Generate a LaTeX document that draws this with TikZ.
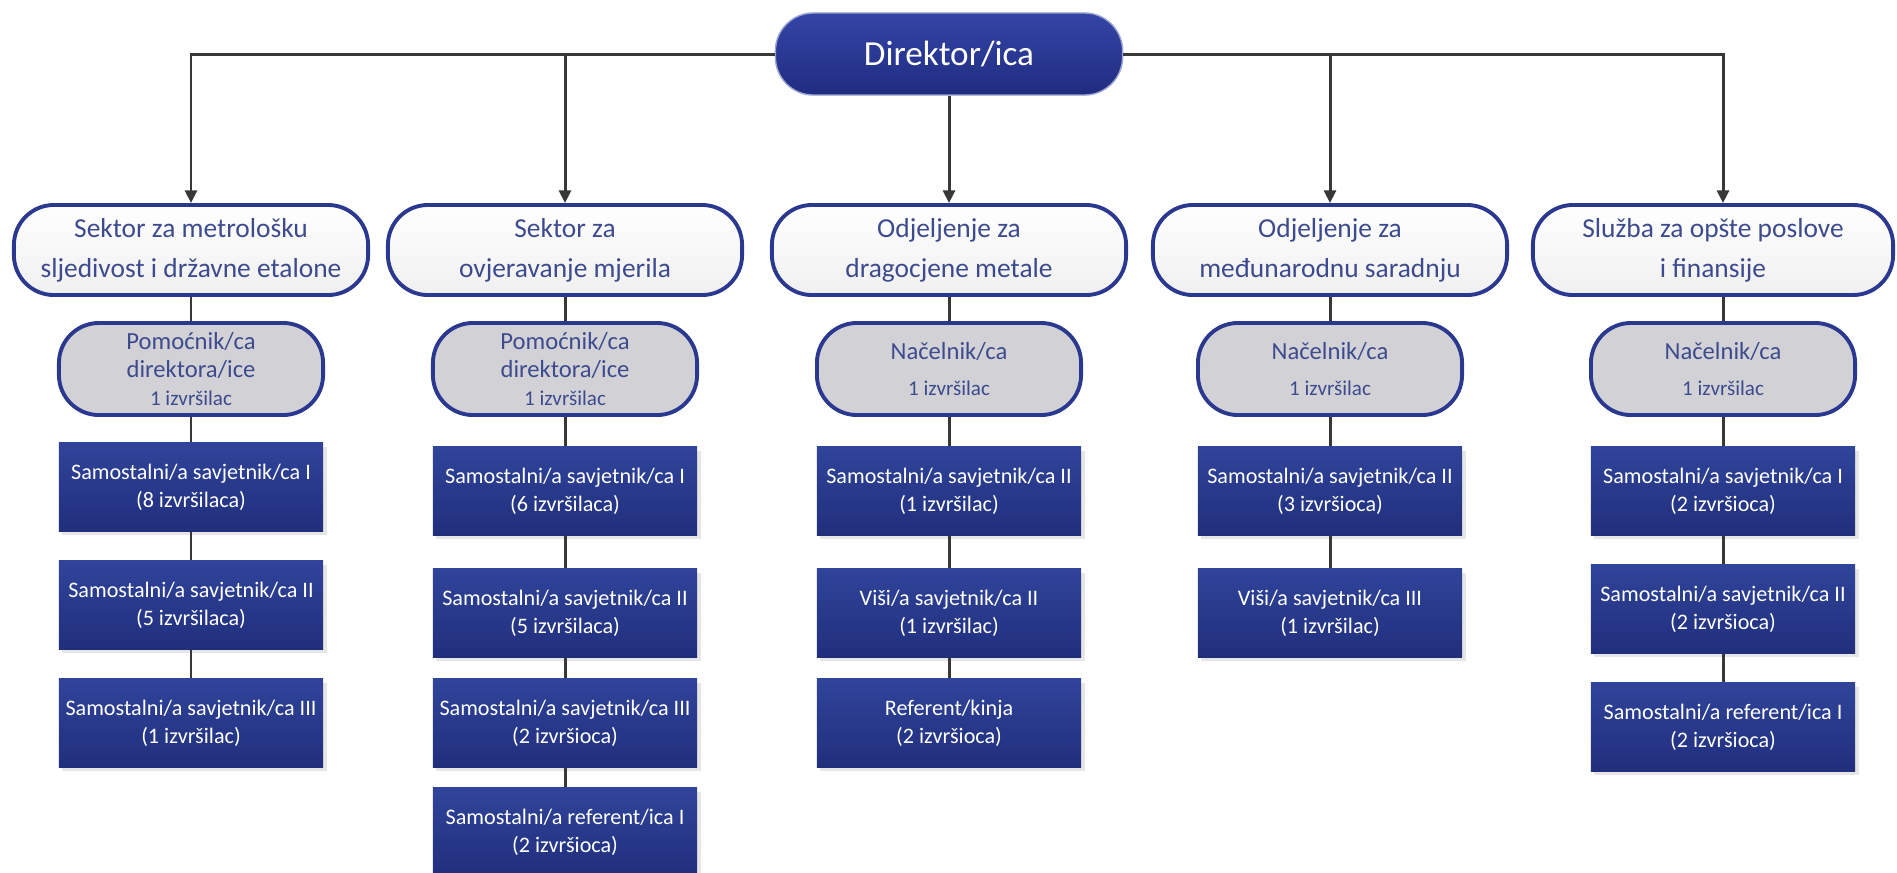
\documentclass[tikz,border=0pt]{standalone}
\usepackage{fontspec}
\setmainfont{Carlito}
\usepackage{tikz}
\usetikzlibrary{arrows.meta, positioning, shadows}
\definecolor{dirblue}{HTML}{3545A6}
\definecolor{dirdark}{HTML}{1F2C80}
\definecolor{unitline}{HTML}{2B3890}
\definecolor{unittext}{HTML}{3D4B8E}
\definecolor{headgray}{HTML}{D2D2D6}
\definecolor{postblue}{HTML}{30449A}
\definecolor{postdark}{HTML}{212E7C}
\definecolor{wire}{HTML}{383838}
\newcommand{\crew}[1]{{\fontsize{6}{8}\selectfont #1}}

\begin{document}
\begin{tikzpicture}[x=0.01cm, y=-0.01cm,
  director/.style={rectangle, rounded corners=0.38cm, top color=dirblue, bottom color=dirdark,
    draw=dirblue!50!white, line width=0.4pt, minimum width=3.47cm, minimum height=0.82cm,
    text=white, font=\fontsize{10}{12}\selectfont},
  unit/.style={rectangle, rounded corners=0.4cm, top color=white, bottom color=gray!12,
    draw=unitline, line width=1.1pt, minimum width=3.54cm, minimum height=0.9cm, inner sep=0pt,
    text=unittext, align=center, font=\fontsize{7.8}{11.4}\selectfont},
  head/.style={rectangle, rounded corners=0.4cm, fill=headgray, draw=unitline, line width=1.1pt,
    minimum width=2.64cm, minimum height=0.92cm, inner sep=0pt,
    text=unittext, align=center, font=\fontsize{7}{8}\selectfont},
  post/.style={rectangle, top color=postblue, bottom color=postdark,
    minimum width=2.64cm, minimum height=0.88cm, inner sep=0pt,
    drop shadow={opacity=0.2, shadow xshift=1pt, shadow yshift=-1pt},
    text=white, align=center, font=\fontsize{6.3}{8}\selectfont},
  arrow/.style={-{Triangle[length=3.6pt, width=3.4pt]}, line width=0.85pt, wire},
  link/.style={line width=0.85pt, wire}
]
  \useasboundingbox (0,0) rectangle (1897,872);

  % top
  \node[director] (dir) at (949,54) {Direktor/ica};

  % sectors and departments
  \node[unit] (s1) at (191,250) {Sektor za metrološku\\sljedivost i državne etalone};
  \node[unit] (s2) at (565,250) {Sektor za\\ovjeravanje mjerila};
  \node[unit] (s3) at (949,250) {Odjeljenje za\\dragocjene metale};
  \node[unit] (s4) at (1330,250) {Odjeljenje za\\međunarodnu saradnju};
  \node[unit, minimum width=3.6cm] (s5) at (1713,250) {Služba za opšte poslove\\i finansije};

  % heads
  \node[head] (h1) at (191,369) {Pomoćnik/ca\\direktora/ice\\\crew{1 izvršilac}};
  \node[head] (h2) at (565,369) {Pomoćnik/ca\\direktora/ice\\\crew{1 izvršilac}};
  \node[head] (h3) at (949,369) {Načelnik/ca\\[2pt]\crew{1 izvršilac}};
  \node[head] (h4) at (1330,369) {Načelnik/ca\\[2pt]\crew{1 izvršilac}};
  \node[head] (h5) at (1723,369) {Načelnik/ca\\[2pt]\crew{1 izvršilac}};

  % posts
  \node[post] (p11) at (191,487) {Samostalni/a savjetnik/ca I\\(8 izvršilaca)};
  \node[post] (p12) at (191,605) {Samostalni/a savjetnik/ca II\\(5 izvršilaca)};
  \node[post] (p13) at (191,723) {Samostalni/a savjetnik/ca III\\(1 izvršilac)};

  \node[post] (p21) at (565,491) {Samostalni/a savjetnik/ca I\\(6 izvršilaca)};
  \node[post] (p22) at (565,613) {Samostalni/a savjetnik/ca II\\(5 izvršilaca)};
  \node[post] (p23) at (565,723) {Samostalni/a savjetnik/ca III\\(2 izvršioca)};
  \node[post] (p24) at (565,832) {Samostalni/a referent/ica I\\(2 izvršioca)};

  \node[post] (p31) at (949,491) {Samostalni/a savjetnik/ca II\\(1 izvršilac)};
  \node[post] (p32) at (949,613) {Viši/a savjetnik/ca II\\(1 izvršilac)};
  \node[post] (p33) at (949,723) {Referent/kinja\\(2 izvršioca)};

  \node[post] (p41) at (1330,491) {Samostalni/a savjetnik/ca II\\(3 izvršioca)};
  \node[post] (p42) at (1330,613) {Viši/a savjetnik/ca III\\(1 izvršilac)};

  \node[post] (p51) at (1723,491) {Samostalni/a savjetnik/ca I\\(2 izvršioca)};
  \node[post] (p52) at (1723,609) {Samostalni/a savjetnik/ca II\\(2 izvršioca)};
  \node[post] (p53) at (1723,727) {Samostalni/a referent/ica I\\(2 izvršioca)};

  % arrows from the director
  \draw[arrow] (dir.west) -| (s1.north);
  \draw[arrow] (dir.west) -| (s2.north);
  \draw[arrow] (dir.south) -- (s3.north);
  \draw[arrow] (dir.east) -| (s4.north);
  \draw[arrow] (dir.east) -| (s5.north -| h5);

  % columns
  \draw[link] (s1) -- (h1) (h1) -- (p11) (p11) -- (p12) (p12) -- (p13);
  \draw[link] (s2) -- (h2) (h2) -- (p21) (p21) -- (p22) (p22) -- (p23) (p23) -- (p24);
  \draw[link] (s3) -- (h3) (h3) -- (p31) (p31) -- (p32) (p32) -- (p33);
  \draw[link] (s4) -- (h4) (h4) -- (p41) (p41) -- (p42);
  \draw[link] (s5.south -| h5) -- (h5) (h5) -- (p51) (p51) -- (p52) (p52) -- (p53);
\end{tikzpicture}
\end{document}
